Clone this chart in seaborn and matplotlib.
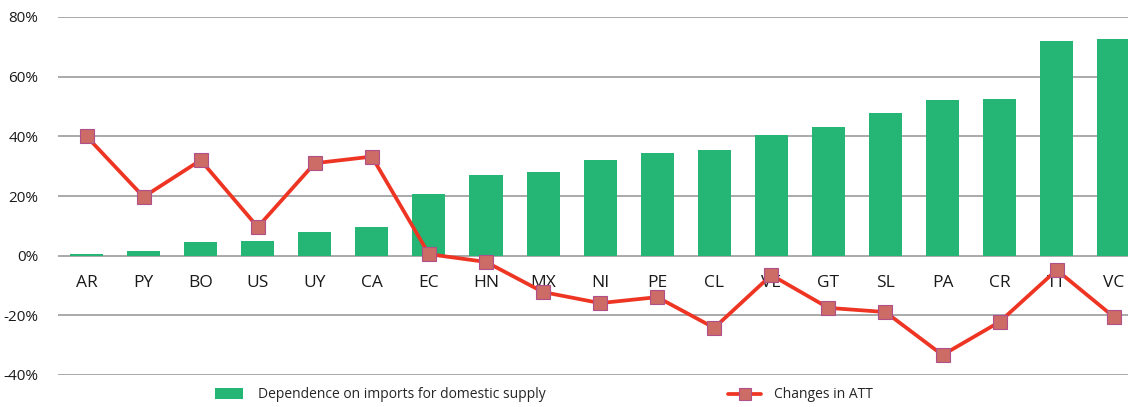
import numpy as np
import pandas as pd
import matplotlib
matplotlib.use("Agg")
import matplotlib.pyplot as plt
from matplotlib.patches import Patch
from matplotlib.lines import Line2D
import seaborn as sns

countries = ["AR", "PY", "BO", "US", "UY", "CA", "EC", "HN", "MX", "NI",
             "PE", "CL", "VE", "GT", "SL", "PA", "CR", "TT", "VC"]
dependence = [0.5, 1.6, 4.5, 4.9, 7.9, 9.6, 20.7, 27.0, 28.0, 32.0,
              34.4, 35.4, 40.6, 43.0, 47.8, 52.2, 52.5, 71.8, 72.6]
att_change = [40.0, 19.7, 32.0, 9.6, 31.0, 33.2, 0.5, -2.1, -12.2, -15.9,
              -13.9, -24.2, -6.5, -17.5, -18.9, -33.3, -22.2, -4.8, -20.5]
yticks = [-40, -20, 0, 20, 40, 60, 80]
legend_labels = ["Dependence on imports for domestic supply", "Changes in ATT"]

bar_color = "#25b574"
line_color = "#ee3523"
marker_face = "#cd6b66"
marker_edge = "#b0508a"

df = pd.DataFrame({"country": countries, "dep": dependence, "att": att_change,
                   "pos": np.arange(len(countries))})

sns.set_theme(style="white")
plt.rcParams["font.family"] = ["Open Sans", "DejaVu Sans"]

fig = plt.figure(figsize=(11.28, 4.07), dpi=100)
ax = fig.add_axes([58 / 1128, 1 - 375 / 407, 1 - 58 / 1128, (375 - 17) / 407])

sns.barplot(data=df, x="pos", y="dep", color=bar_color, width=0.58,
            saturation=1, ax=ax, native_scale=True, zorder=2, linewidth=0)
sns.lineplot(data=df, x="pos", y="att", color=line_color, linewidth=2.7,
             marker="s", markersize=10, markerfacecolor=marker_face,
             markeredgecolor=marker_edge, markeredgewidth=0.8, ax=ax, zorder=4)

for i, c in enumerate(countries):
    ax.text(i, -9, c, ha="center", va="center", fontsize=12.5, color="#1a1a1a", zorder=3)

ax.set_xlim(-0.5, len(countries) - 1 + 0.25)
ax.set_ylim(-40, 80)
ax.set_yticks(yticks)
ax.set_yticklabels([f"{v}%" for v in yticks])
ax.set_xticks([])
ax.set_xlabel("")
ax.set_ylabel("")
ax.tick_params(axis="y", length=0, pad=14, labelsize=11, labelcolor="#1a1a1a")
for s in ax.spines.values():
    s.set_visible(False)
ax.yaxis.grid(True, color="#a3a3a3", linewidth=1.3, zorder=0)
ax.set_axisbelow(True)

h1 = Patch(facecolor=bar_color, edgecolor="none")
h2 = Line2D([0], [0], color=line_color, linewidth=2.7, marker="s", markersize=9,
            markerfacecolor=marker_face, markeredgecolor=marker_edge, markeredgewidth=0.8)
fig.legend([h1], [legend_labels[0]], loc="center left",
           bbox_to_anchor=(215 / 1128, 1 - 395 / 407), frameon=False, fontsize=10,
           borderpad=0, borderaxespad=0, handlelength=2.0, handleheight=0.9, handletextpad=1.1)
fig.legend([h2], [legend_labels[1]], loc="center left",
           bbox_to_anchor=(728 / 1128, 1 - 395 / 407), frameon=False, fontsize=10,
           borderpad=0, borderaxespad=0, handlelength=2.4, handletextpad=0.9)

fig.savefig("out.png", dpi=100)
